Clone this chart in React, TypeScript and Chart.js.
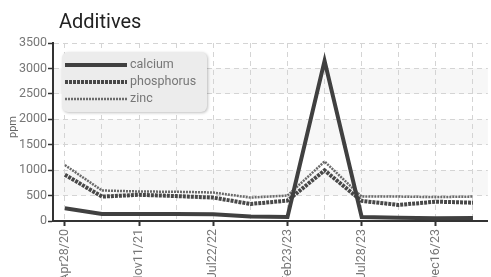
import React, { useEffect, useRef } from "react";
import { Chart, registerables } from "chart.js";

Chart.register(...registerables);

const categories = [
  "Apr28/20", "Jan05/21", "Nov11/21", "Mar17/22", "Jul22/22", "Nov10/22",
  "Feb23/23", "Apr20/23", "Jul28/23", "Oct02/23", "Dec16/23", "Mar05/24",
];
const calcium = [250, 140, 140, 140, 135, 90, 80, 3150, 80, 65, 55, 60];
const phosphorus = [910, 480, 515, 490, 460, 335, 400, 995, 395, 316, 380, 360];
const zinc = [1100, 600, 580, 575, 560, 460, 500, 1170, 480, 480, 470, 480];
const yTicks = [0, 500, 1000, 1500, 2000, 2500, 3000, 3500];
const bands: [number, number][] = [[500, 1000], [1500, 2000], [2500, 3000]];

const FONT = "Roboto, 'Noto Sans', sans-serif";

const seriesStyle = [
  { name: "calcium", data: calcium, color: "#404040", width: 4, dash: [] as number[] },
  { name: "phosphorus", data: phosphorus, color: "#484848", width: 4, dash: [3, 1] },
  { name: "zinc", data: zinc, color: "#6a6a6a", width: 2.5, dash: [2, 1] },
];

const decorPlugin = {
  id: "decor",
  beforeDraw(chart: any) {
    const { ctx, chartArea, scales } = chart;
    ctx.save();
    ctx.fillStyle = "#ffffff";
    ctx.fillRect(0, 0, chart.width, chart.height);
    ctx.fillStyle = "#f7f7f7";
    for (const [a, b] of bands) {
      const y1 = scales.y.getPixelForValue(b);
      const y2 = scales.y.getPixelForValue(a);
      ctx.fillRect(chartArea.left, y1, chartArea.right - chartArea.left, y2 - y1);
    }
    ctx.restore();
  },
  afterDraw(chart: any) {
    const { ctx } = chart;
    ctx.save();
    // title
    ctx.fillStyle = "#222";
    ctx.font = `20px ${FONT}`;
    ctx.textBaseline = "alphabetic";
    ctx.textAlign = "left";
    ctx.fillText("Additives", 59, 28);
    // y axis title
    ctx.save();
    ctx.translate(13, 127);
    ctx.rotate(-Math.PI / 2);
    ctx.font = `11px ${FONT}`;
    ctx.fillStyle = "#666";
    ctx.textAlign = "center";
    ctx.textBaseline = "middle";
    ctx.fillText("ppm", 0, 0);
    ctx.restore();
    // legend box
    const bx = 62, by = 52, bw = 145, bh = 60, r = 6;
    ctx.save();
    ctx.shadowColor = "rgba(0,0,0,0.25)";
    ctx.shadowBlur = 3;
    ctx.shadowOffsetX = 1;
    ctx.shadowOffsetY = 1;
    ctx.fillStyle = "#ececec";
    ctx.beginPath();
    ctx.roundRect(bx, by, bw, bh, r);
    ctx.fill();
    ctx.restore();
    const rows = [65, 82, 99];
    seriesStyle.forEach((s, i) => {
      ctx.save();
      ctx.strokeStyle = s.color;
      ctx.lineWidth = s.width;
      ctx.setLineDash(s.dash);
      ctx.beginPath();
      ctx.moveTo(65, rows[i]);
      ctx.lineTo(127, rows[i]);
      ctx.stroke();
      ctx.restore();
      ctx.fillStyle = "#777";
      ctx.font = `12.5px ${FONT}`;
      ctx.textBaseline = "middle";
      ctx.fillText(s.name, 130, rows[i]);
    });
    ctx.restore();
  },
};

export default function App() {
  const ref = useRef<HTMLCanvasElement>(null);
  useEffect(() => {
    document.body.style.margin = "0";
    const chart = new Chart(ref.current!, {
      type: "line",
      data: {
        datasets: seriesStyle.map((s) => ({
          label: s.name,
          data: s.data.map((v, i) => ({ x: i, y: v })),
          borderColor: s.color,
          borderWidth: s.width,
          borderDash: s.dash,
          pointRadius: 0,
          tension: 0,
          fill: false,
        })),
      },
      options: {
        animation: false,
        responsive: false,
        devicePixelRatio: 1,
        layout: { padding: { top: 43, right: 1, left: 0, bottom: 0 } },
        plugins: { legend: { display: false }, title: { display: false }, tooltip: { enabled: false } },
        scales: {
          x: {
            type: "linear",
            min: -0.32,
            max: 11.4,
            afterFit: (s: any) => { s.height = 56; },
            ticks: {
              stepSize: 1,
              includeBounds: false,
              autoSkip: false,
              maxRotation: 90,
              minRotation: 90,
              padding: 3,
              color: "#777",
              font: { family: FONT, size: 12.5 },
              callback: (v: any) => (Number(v) % 2 === 0 ? categories[Number(v)] : ""),
            },
            grid: {
              color: "#d4d4d4",
              lineWidth: 1,
              tickLength: 5,
              tickWidth: 2,
              tickColor: (c: any) => (c.tick && c.tick.value % 2 === 0 ? "#333" : "rgba(0,0,0,0)"),
            },
            border: { color: "#333", width: 2, dash: [5, 4] },
          },
          y: {
            min: 0,
            max: 3500,
            afterFit: (s: any) => { s.width = 53; },
            afterBuildTicks: (s: any) => { s.ticks = yTicks.map((v) => ({ value: v })); },
            ticks: {
              padding: 1,
              color: "#777",
              font: { family: FONT, size: 12.5 },
              callback: (v: any) => String(v),
            },
            grid: {
              color: "#d4d4d4",
              lineWidth: 1,
              tickLength: 5,
              tickWidth: 1.5,
              tickColor: "#333",
            },
            border: { color: "#333", width: 2, dash: [5, 4] },
          },
        },
      },
      plugins: [decorPlugin],
    });
    return () => chart.destroy();
  }, []);
  return <canvas ref={ref} width={491} height={277} style={{ display: "block", width: 491, height: 277 }} />;
}
